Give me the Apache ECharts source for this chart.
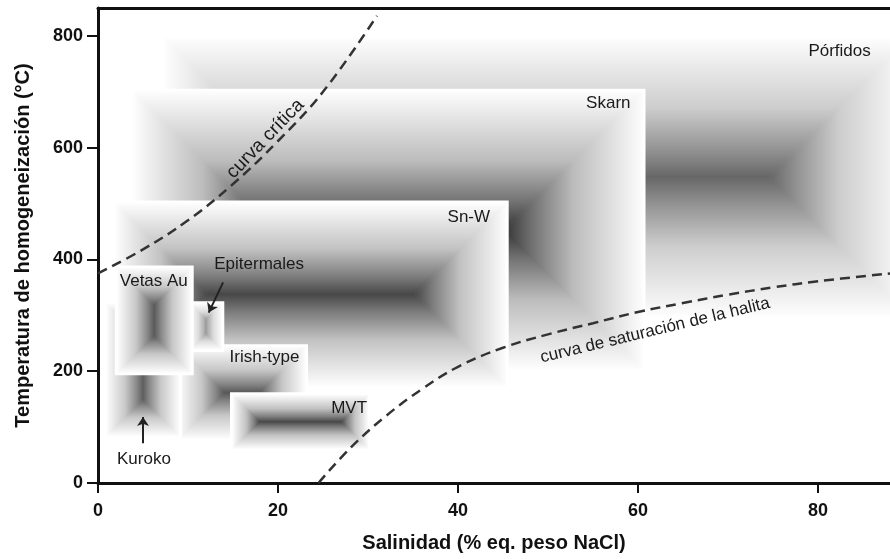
<!DOCTYPE html>
<html><head><meta charset="utf-8">
<script src="https://cdn.jsdelivr.net/npm/echarts@6/dist/echarts.min.js"></script>
<style>html,body{margin:0;padding:0;background:#fff}#c{width:890px;height:559px}</style>
</head><body><div id="c"></div>
<script>
// ---- Data ----
const depositNames = ['Pórfidos','Skarn','Sn-W','Irish-type','Kuroko','MVT','Epitermales','Vetas Au'];
const salinityMin  = [7.5, 4,    2,    9,   1,   15,  10.3, 2.2];
const salinityMax  = [90,  60.5, 45.3, 23,  9,   30,  13.7, 10.3];
const tempMin      = [300, 205,  175,  80,  85,  62,  240,  198];
const tempMax      = [795, 700,  500,  243, 320, 157, 320,  384];

const criticalCurveX = [0, 5, 10, 15, 20, 25, 31];
const criticalCurveY = [375, 418, 470, 535, 612, 700, 836];
const halitaCurveX = [24.5, 28, 32, 36, 40, 45, 50, 55, 60, 65, 70, 75, 80, 88];
const halitaCurveY = [0, 62, 120, 168, 208, 242, 266, 286, 306, 322, 337, 350, 361, 375];

const xTicks = [0, 20, 40, 60, 80];
const yTicks = [0, 200, 400, 600, 800];

const labelTexts = ['Pórfidos','Skarn','Sn-W','Vetas Au','Epitermales','Irish-type','MVT','Kuroko','curva crítica','curva de saturación de la halita'];
const labelX = [82.4, 56.7, 41.2, 6.2, 17.9, 18.5, 27.9, 5.1, 18.6, 61.9];
const labelY = [773, 679, 475, 361, 391, 225, 134, 43, 616, 273];
const labelAngle = [0, 0, 0, 0, 0, 0, 0, 0, 46, 13.5];

const arrowFrom = [[13.9, 359], [5.0, 71]];
const arrowTo   = [[12.3, 305], [5.0, 118]];

// ---- Styles ----
const centerShade = ['#666666','#333333','#464646','#555555','#5c5c5c','#444444','#999999','#575757'];
const labelSize = [17, 17, 17, 17, 17, 17, 17, 17, 19, 17];
const FONT = '"Liberation Sans", Arial, Helvetica, sans-serif';

const boxData = depositNames.map((n, i) => [salinityMin[i], salinityMax[i], tempMin[i], tempMax[i], i]);

function hex2rgb(h) { h = h.replace('#', ''); return [0, 2, 4].map(k => parseInt(h.substr(k, 2), 16)); }
function mix(a, b, t) {
  const A = hex2rgb(a), B = hex2rgb(b);
  return 'rgb(' + A.map((v, k) => Math.round(v + (B[k] - v) * t)).join(',') + ')';
}
function grad(x, y, x2, y2, fromEdge, light, dark) {
  const stops = [
    {offset: 0, color: light},
    {offset: 0.5, color: mix(light, dark, 0.32)},
    {offset: 0.8, color: mix(light, dark, 0.7)},
    {offset: 1, color: dark}
  ];
  const cs = fromEdge ? stops : stops.map(s => ({offset: 1 - s.offset, color: s.color})).reverse();
  return {type: 'linear', x, y, x2, y2, colorStops: cs};
}
function renderBox(params, api) {
  const i = api.value(4);
  const p0 = api.coord([api.value(0), api.value(3)]);
  const p1 = api.coord([api.value(1), api.value(2)]);
  const x0 = p0[0], y0 = p0[1], x1 = p1[0], y1 = p1[1];
  const w = x1 - x0, h = y1 - y0, d = Math.min(w, h) / 2;
  const dark = centerShade[i], light = '#fdfdfd';
  const halo = 3;
  const gT = grad(0, 0, 0, 1, true, light, dark), gB = grad(0, 0, 0, 1, false, light, dark);
  const gL = grad(0, 0, 1, 0, true, light, dark), gR = grad(0, 0, 1, 0, false, light, dark);
  const poly = (pts, g) => ({type: 'polygon', shape: {points: pts}, style: {fill: g, stroke: g, lineWidth: 1}});
  return {type: 'group', children: [
    {type: 'rect', shape: {x: x0 - halo, y: y0 - halo, width: w + 2 * halo, height: h + 2 * halo}, style: {fill: '#fff'}},
    poly([[x0, y0], [x1, y0], [x1 - d, y0 + d], [x0 + d, y0 + d]], gT),
    poly([[x0, y1], [x1, y1], [x1 - d, y1 - d], [x0 + d, y1 - d]], gB),
    poly([[x0, y0], [x0 + d, y0 + d], [x0 + d, y1 - d], [x0, y1]], gL),
    poly([[x1, y0], [x1 - d, y0 + d], [x1 - d, y1 - d], [x1, y1]], gR)
  ]};
}
function renderLabel(params, api) {
  const i = params.dataIndex;
  const p = api.coord([labelX[i], labelY[i]]);
  return {type: 'text', x: p[0], y: p[1], rotation: labelAngle[i] * Math.PI / 180,
    style: {text: labelTexts[i], fill: '#1a1a1a', font: labelSize[i] + 'px ' + FONT, align: 'center', verticalAlign: 'middle'}};
}

const chart = echarts.init(document.getElementById('c'));
const axisText = {color: '#111', fontFamily: FONT, fontSize: 18, fontWeight: 'bold'};
const nameText = {color: '#111', fontFamily: FONT, fontSize: 20, fontWeight: 'bold'};
chart.setOption({
  animation: false,
  backgroundColor: '#fff',
  grid: {left: 98, right: 0, top: 8, bottom: 76},
  xAxis: [{
    type: 'value', min: 0, max: 88, interval: 20,
    name: 'Salinidad (% eq. peso NaCl)', nameLocation: 'middle', nameGap: 50,
    nameTextStyle: nameText,
    axisLine: {lineStyle: {color: '#111', width: 3}},
    axisTick: {length: 10, lineStyle: {color: '#111', width: 2}, customValues: xTicks},
    axisLabel: Object.assign({margin: 19, customValues: xTicks}, axisText),
    splitLine: {show: false}
  }, {
    type: 'value', position: 'top', min: 0, max: 88,
    axisLine: {show: true, lineStyle: {color: '#111', width: 3}},
    axisTick: {show: false}, axisLabel: {show: false}, splitLine: {show: false}
  }],
  yAxis: {
    type: 'value', min: 0, max: 850, interval: 200,
    name: 'Temperatura de homogeneización (°C)', nameLocation: 'middle', nameGap: 65,
    nameTextStyle: nameText,
    axisLine: {show: true, lineStyle: {color: '#111', width: 3}},
    axisTick: {show: true, length: 11, lineStyle: {color: '#111', width: 2}, customValues: yTicks},
    axisLabel: Object.assign({margin: 15, customValues: yTicks}, axisText),
    splitLine: {show: false}
  },
  series: [
    {type: 'custom', name: 'boxes', renderItem: renderBox, data: boxData, z: 1, silent: true},
    {type: 'line', name: 'curva crítica', data: criticalCurveX.map((x, i) => [x, criticalCurveY[i]]),
      smooth: 0.4, showSymbol: false, lineStyle: {color: '#333', width: 2.5, type: [10, 6]}, z: 3},
    {type: 'line', name: 'curva de saturación de la halita', data: halitaCurveX.map((x, i) => [x, halitaCurveY[i]]),
      smooth: 0.4, showSymbol: false, lineStyle: {color: '#333', width: 2.5, type: [10, 6]}, z: 3},
    {type: 'lines', coordinateSystem: 'cartesian2d', z: 4,
      data: arrowFrom.map((f, i) => ({coords: [f, arrowTo[i]]})),
      symbol: ['none', 'arrow'], symbolSize: 9,
      lineStyle: {color: '#222', width: 2, opacity: 1}},
    {type: 'custom', name: 'labels', renderItem: renderLabel, data: labelTexts.map((t, i) => [labelX[i], labelY[i]]), z: 5, silent: true}
  ]
});
</script></body></html>
